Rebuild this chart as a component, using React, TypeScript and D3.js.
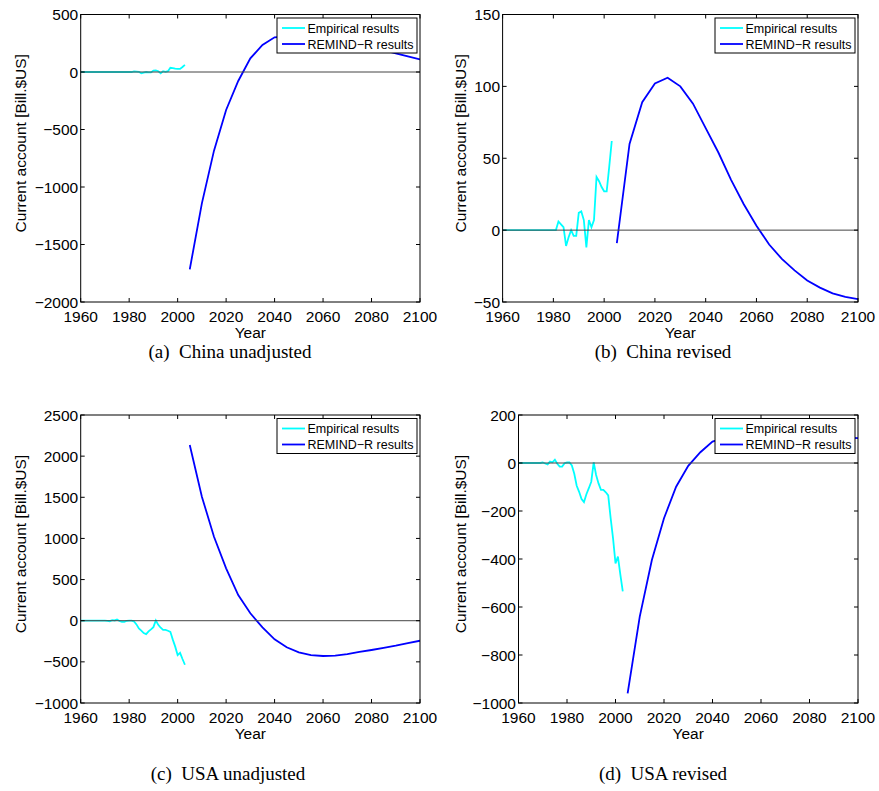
import React, { useEffect, useRef } from "react";
import * as d3 from "d3";

// empirical years 1960..2003, model years 2005..2100 (5-year steps)
const empYears = d3.range(1960, 2004);
const remindYears = d3.range(2005, 2101, 5);
const xTicks = [1960, 1980, 2000, 2020, 2040, 2060, 2080, 2100];

const chinaEmpirical = [
  0, 0, 0, 0, 0, 0, 0, 0, 0, 0, 0, 0, 0, 0, 0, 0, 0, 0, 0, 0, 0, 0,
  6, 4, 2, -11, -5, 0, -4, -4, 12, 13, 7, -12, 7, 2, 7, 37, 34, 30, 27, 27, 44, 62
];
const usaEmpirical = [
  0, 0, 0, 0, 0, 0, 0, 0, 0, 0,
  2, -2, -6, 6, 3, 14, -3, -15, -15, -1, 2, 2, -10, -45, -95, -120, -150, -163,
  -130, -105, -78, 3, -50, -85, -112, -112, -122, -135, -230, -315, -418, -390, -465, -535
];

const chinaRemindUnadj = [-1716, -1142, -684, -330, -78, 119, 235, 302, 310, 310, 302, 290, 275, 258, 238, 215, 190, 162, 136, 110];
const chinaRemindRev = [-9, 60, 89, 102, 106, 100, 88, 71, 54, 35, 18, 3, -10, -20, -28, -35, -40, -44, -46.5, -48];
const usaRemindUnadj = [2135, 1507, 1021, 637, 312, 90, -80, -226, -323, -384, -417, -429, -425, -405, -380, -356, -330, -304, -273, -243];
const usaRemindRev = [-960, -640, -404, -230, -99, -12, 45, 89, 105, 112, 117, 119, 119, 118, 116, 113, 111, 108, 106, 104];

const yTicksA = [-2000, -1500, -1000, -500, 0, 500];
const yTicksB = [-50, 0, 50, 100, 150];
const yTicksC = [-1000, -500, 0, 500, 1000, 1500, 2000, 2500];
const yTicksD = [-1000, -800, -600, -400, -200, 0, 200];

const legendLabels = ["Empirical results", "REMIND\u2212R results"];
const colors = ["#00ffff", "#0000ff"];

const panels = [
  { left: 80.7, right: 420, top: 14.5, bottom: 302, labOff: 60, yTicks: yTicksA, emp: chinaEmpirical, remind: chinaRemindUnadj, caption: "(a)  China unadjusted", capX: 230, capY: 358 },
  { left: 502.6, right: 858, top: 14.5, bottom: 302, labOff: 42, yTicks: yTicksB, emp: chinaEmpirical, remind: chinaRemindRev, caption: "(b)  China revised", capX: 663, capY: 358 },
  { left: 80.7, right: 420, top: 415, bottom: 703, labOff: 60, yTicks: yTicksC, emp: usaEmpirical, remind: usaRemindUnadj, caption: "(c)  USA unadjusted", capX: 228, capY: 780 },
  { left: 518.5, right: 858, top: 415, bottom: 703, labOff: 58, yTicks: yTicksD, emp: usaEmpirical, remind: usaRemindRev, caption: "(d)  USA revised", capX: 663, capY: 780 }
];

const sans = "'Liberation Sans', Arial, Helvetica, sans-serif";
const serif = "'Liberation Serif', 'Times New Roman', serif";
const fmt = (v: number) => (v < 0 ? "\u2212" + Math.abs(v) : String(v));

export default function App() {
  const svgRef = useRef<SVGSVGElement>(null);

  useEffect(() => {
    const svg = d3.select(svgRef.current);
    svg.selectAll("*").remove();

    panels.forEach((p, idx) => {
      const x = d3.scaleLinear().domain([1960, 2100]).range([p.left, p.right]);
      const yDom = d3.extent(p.yTicks) as [number, number];
      const y = d3.scaleLinear().domain(yDom).range([p.bottom, p.top]);
      const g = svg.append("g");

      const clipId = "clip" + idx;
      g.append("clipPath").attr("id", clipId)
        .append("rect")
        .attr("x", p.left).attr("y", p.top)
        .attr("width", p.right - p.left).attr("height", p.bottom - p.top);

      const line = d3.line<[number, number]>()
        .x(d => x(d[0]))
        .y(d => y(d[1]));

      const plot = g.append("g").attr("clip-path", `url(#${clipId})`);

      plot.append("path")
        .attr("d", line(empYears.map((yr, i) => [yr, p.emp[i]] as [number, number])))
        .attr("fill", "none")
        .attr("stroke", colors[0])
        .attr("stroke-width", 1.8);

      plot.append("path")
        .attr("d", line(remindYears.map((yr, i) => [yr, p.remind[i]] as [number, number])))
        .attr("fill", "none")
        .attr("stroke", colors[1])
        .attr("stroke-width", 1.8);

      // zero line
      plot.append("line")
        .attr("x1", p.left).attr("x2", p.right)
        .attr("y1", y(0)).attr("y2", y(0))
        .attr("stroke", "#444")
        .attr("stroke-width", 1);

      // box
      g.append("rect")
        .attr("x", p.left).attr("y", p.top)
        .attr("width", p.right - p.left).attr("height", p.bottom - p.top)
        .attr("fill", "none")
        .attr("stroke", "#000")
        .attr("stroke-width", 1);

      const tl = 4;
      // x ticks (inward, bottom and top)
      xTicks.forEach(t => {
        g.append("line").attr("x1", x(t)).attr("x2", x(t))
          .attr("y1", p.bottom).attr("y2", p.bottom - tl).attr("stroke", "#000");
        g.append("line").attr("x1", x(t)).attr("x2", x(t))
          .attr("y1", p.top).attr("y2", p.top + tl).attr("stroke", "#000");
        g.append("text")
          .attr("x", x(t)).attr("y", p.bottom + 19.7)
          .attr("text-anchor", "middle")
          .style("font-family", sans).style("font-size", "15.5px")
          .text(t);
      });

      // y ticks (inward, left and right)
      p.yTicks.forEach(t => {
        g.append("line").attr("x1", p.left).attr("x2", p.left + tl)
          .attr("y1", y(t)).attr("y2", y(t)).attr("stroke", "#000");
        g.append("line").attr("x1", p.right).attr("x2", p.right - tl)
          .attr("y1", y(t)).attr("y2", y(t)).attr("stroke", "#000");
        g.append("text")
          .attr("x", p.left - 2.5).attr("y", y(t))
          .attr("dy", "0.36em")
          .attr("text-anchor", "end")
          .style("font-family", sans).style("font-size", "15.5px")
          .text(fmt(t));
      });

      // axis labels
      g.append("text")
        .attr("x", (p.left + p.right) / 2).attr("y", p.bottom + 35.5)
        .attr("text-anchor", "middle")
        .style("font-family", sans).style("font-size", "15.5px")
        .text("Year");

      const labX = p.left - p.labOff;
      const labY = (p.top + p.bottom) / 2 - 15;
      g.append("text")
        .attr("transform", `translate(${labX},${labY}) rotate(-90)`)
        .attr("text-anchor", "middle")
        .attr("dy", "0.36em")
        .style("font-family", sans).style("font-size", "15.5px")
        .text("Current account [Bill.$US]");

      // legend
      const lw = 140, lh = 35;
      const lx = p.right - 3 - lw, ly = p.top + 3.5;
      const legend = g.append("g").attr("transform", `translate(${lx},${ly})`);
      legend.append("rect")
        .attr("width", lw).attr("height", lh)
        .attr("fill", "#fff").attr("stroke", "#000").attr("stroke-width", 1);
      legendLabels.forEach((lab, i) => {
        const ry = 10 + i * 16;
        legend.append("line")
          .attr("x1", 5).attr("x2", 28).attr("y1", ry).attr("y2", ry)
          .attr("stroke", colors[i]).attr("stroke-width", 1.8);
        legend.append("text")
          .attr("x", 30.5).attr("y", ry).attr("dy", "0.36em")
          .style("font-family", sans).style("font-size", "12.5px")
          .text(lab);
      });

      // caption
      g.append("text")
        .attr("x", p.capX).attr("y", p.capY)
        .attr("text-anchor", "middle")
        .attr("xml:space", "preserve")
        .style("white-space", "pre")
        .style("font-family", serif).style("font-size", "19px")
        .text(p.caption);
    });
  }, []);

  return (
    <div style={{ position: "absolute", left: 0, top: 0 }}>
      <svg ref={svgRef} width={879} height={791} style={{ display: "block", background: "#fff" }} />
    </div>
  );
}
